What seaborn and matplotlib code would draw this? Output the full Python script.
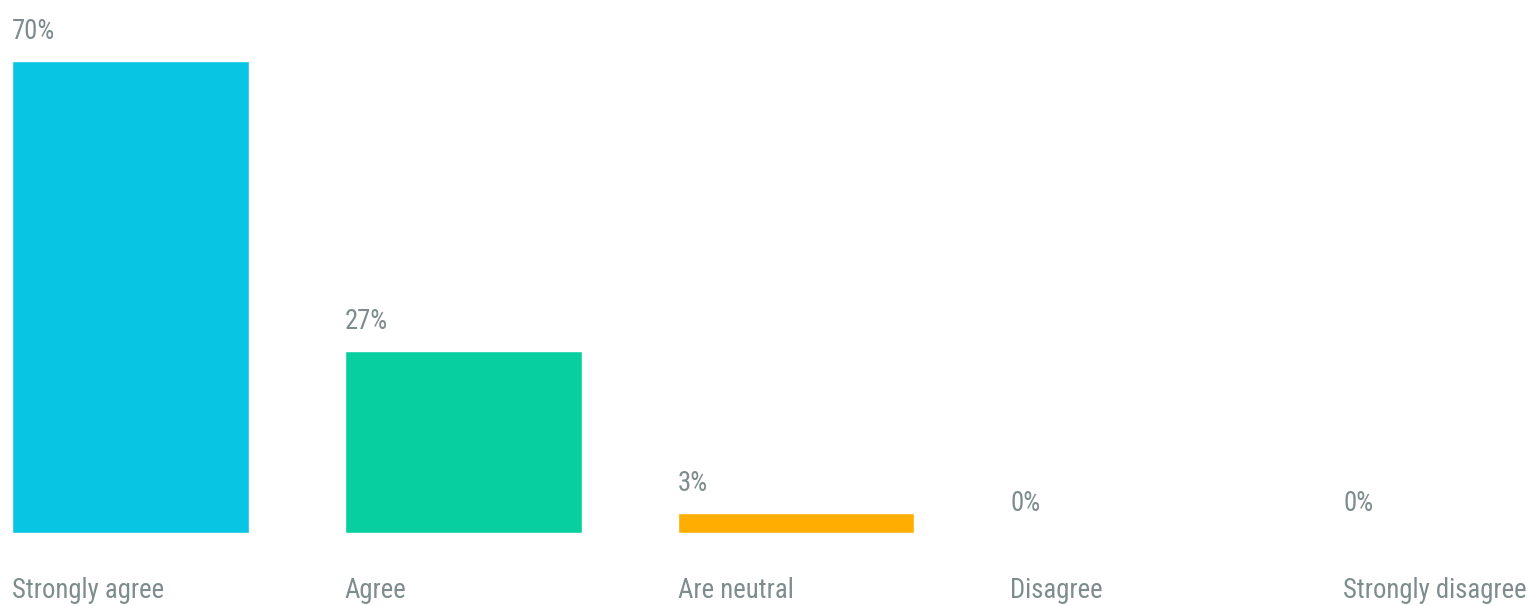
import matplotlib
matplotlib.use("Agg")
import matplotlib.pyplot as plt
import seaborn as sns
import pandas as pd

categories = ["Strongly agree", "Agree", "Are neutral", "Disagree", "Strongly disagree"]
values = [70, 27, 3, 0, 0]
value_labels = ["70%", "27%", "3%", "0%", "0%"]
colors = ["#08C5E3", "#08CFA0", "#FFAE00", "#CCCCCC", "#CCCCCC"]

sns.set_theme(style="white")
plt.rcParams['font.family'] = ['Roboto Condensed', 'Open Sans Condensed', 'Roboto', 'DejaVu Sans']

df = pd.DataFrame({"cat": categories, "val": values})

fig = plt.figure(figsize=(15.31, 6.06), dpi=100)
ax = fig.add_axes([0, 0, 1, 1])
bw = 237 / 333
sns.barplot(data=df, x="cat", y="val", hue="cat", palette=colors, order=categories,
            hue_order=categories, width=bw, legend=False, ax=ax, saturation=1)

ax.set_xlim(-bw / 2 - 12 / 333, 4 - bw / 2 + (1531 - 1343) / 333)
ppu = 6.74
ax.set_ylim(-(606 - 533) / ppu, 533 / ppu)
ax.axis("off")

# size the text so "Strongly agree" spans about 152 px like the reference
renderer = fig.canvas.get_renderer()
probe = fig.text(0, 0, categories[0], fontsize=20)
w = probe.get_window_extent(renderer).width
probe.remove()
fs = 20 * 152 / w

txt_color = "#7f8c8d"
for i, (v, lab, cat) in enumerate(zip(values, value_labels, categories)):
    x_left = i - bw / 2
    ax.annotate(lab, xy=(x_left, v), xytext=(0, 16), textcoords="offset points",
                ha="left", va="baseline", fontsize=fs, color=txt_color)
    ax.annotate(cat, xy=(x_left, 0), xytext=(0, -47), textcoords="offset points",
                ha="left", va="baseline", fontsize=fs, color=txt_color)

fig.savefig("out.png", dpi=100)
